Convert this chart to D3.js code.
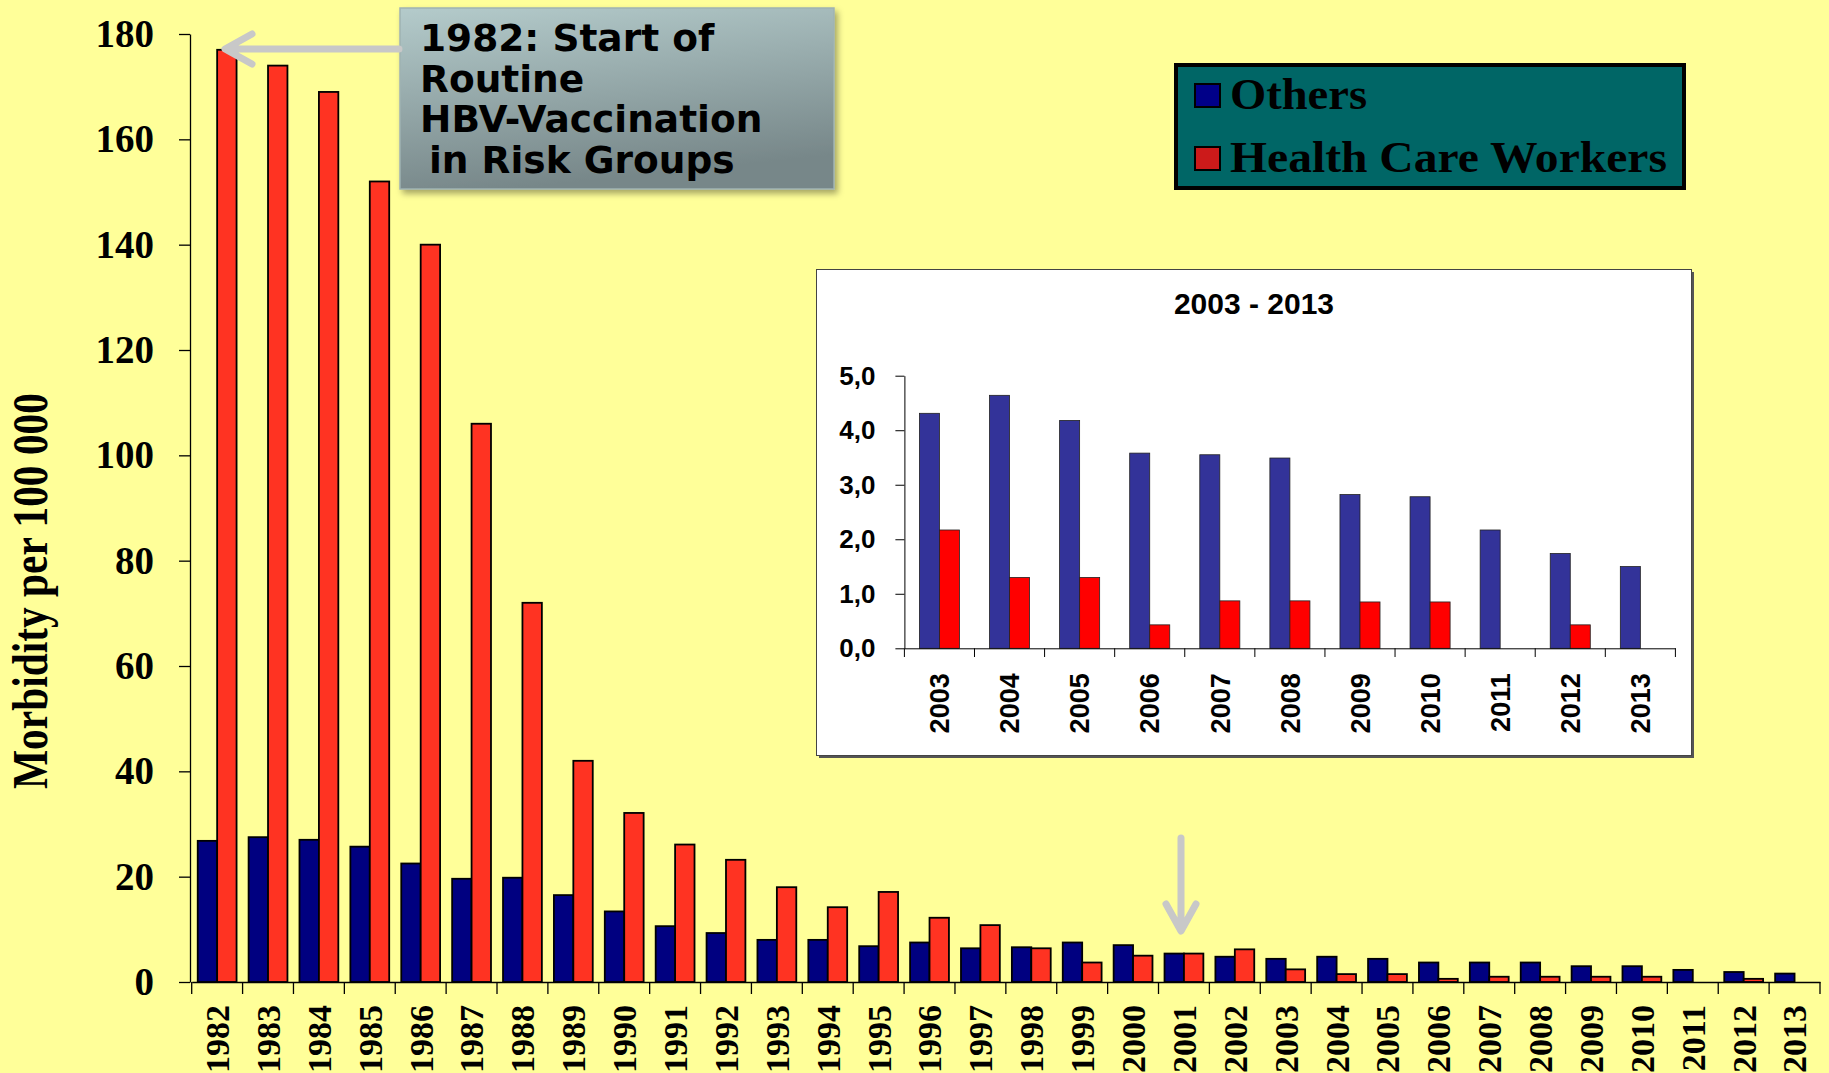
<!DOCTYPE html>
<html>
<head>
<meta charset="utf-8">
<script src="https://cdn.jsdelivr.net/npm/d3@7"></script>
<style>
  body { margin: 0; background: #ffff99; overflow: hidden; }
</style>
</head>
<body>
<script>
let w = 1829;
let h = 1073;

// main chart data, 1982 - 2013
const years = ["1982","1983","1984","1985","1986","1987","1988","1989","1990","1991","1992",
  "1993","1994","1995","1996","1997","1998","1999","2000","2001","2002","2003","2004","2005",
  "2006","2007","2008","2009","2010","2011","2012","2013"];
const others = [26.8, 27.5, 27.0, 25.7, 22.5, 19.6, 19.8, 16.5, 13.4, 10.6, 9.3,
  8.0, 8.0, 6.8, 7.5, 6.4, 6.6, 7.5, 7.0, 5.4, 4.8, 4.4, 4.8, 4.4,
  3.7, 3.7, 3.7, 3.0, 3.0, 2.3, 1.9, 1.6];
const hcw = [177, 174, 169, 152, 140, 106, 72, 42, 32.1, 26.1, 23.2,
  18.0, 14.2, 17.1, 12.2, 10.8, 6.4, 3.7, 5.0, 5.4, 6.2, 2.4, 1.5, 1.5,
  0.6, 1.0, 1.0, 1.0, 1.0, 0, 0.6, 0];
const yTicks = [0, 20, 40, 60, 80, 100, 120, 140, 160, 180];

// inset data, 2003 - 2013
const insetYears = ["2003","2004","2005","2006","2007","2008","2009","2010","2011","2012","2013"];
const insetOthers = [4.31, 4.64, 4.18, 3.58, 3.55, 3.49, 2.82, 2.78, 2.17, 1.74, 1.50];
const insetHcw = [2.17, 1.30, 1.30, 0.43, 0.87, 0.87, 0.85, 0.85, 0, 0.43, 0];
const insetTicks = [0, 1, 2, 3, 4, 5];

const seriesKeys = ["others", "hcw"];
const legendLabels = ["Others", "Health Care Workers"];
const noteLines = ["1982: Start of", "Routine", "HBV-Vaccination", "in Risk Groups"];

const serif = "'Liberation Serif', 'Times New Roman', serif";
const sans = "'Liberation Sans', Arial, sans-serif";
const verdana = "Verdana, 'DejaVu Sans', sans-serif";

let viz = d3.select("body")
            .append("svg")
            .attr("width", w)
            .attr("height", h)
            .style("background-color", "#ffff99");

let defs = viz.append("defs");
let grad = defs.append("linearGradient").attr("id", "noteGrad")
               .attr("x1", 0).attr("y1", 0).attr("x2", 0.25).attr("y2", 1);
grad.append("stop").attr("offset", "0%").attr("stop-color", "#b4cbcb");
grad.append("stop").attr("offset", "100%").attr("stop-color", "#778789");
defs.append("filter").attr("id", "shadow").attr("x", "-10%").attr("y", "-10%")
    .attr("width", "130%").attr("height", "130%")
    .append("feDropShadow").attr("dx", 3).attr("dy", 4).attr("stdDeviation", 3)
    .attr("flood-color", "#000").attr("flood-opacity", 0.35);

// ---------- main chart ----------
let rows = years.map((d, i) => ({ year: d, others: others[i], hcw: hcw[i] }));

let x = d3.scaleBand().domain(years).range([191.7, 1820]);
let xs = d3.scaleBand().domain(seriesKeys).range([0, x.bandwidth()]).paddingOuter(0.31);
let y = d3.scaleLinear().domain([0, 180]).range([982, 34]);
let mainColor = { others: "#000080", hcw: "#ff3322" };

let bars = [];
rows.forEach(r => seriesKeys.forEach(k => {
  if (r[k] > 0) bars.push({ year: r.year, key: k, value: r[k] });
}));

viz.append("g").selectAll("rect").data(bars).enter().append("rect")
   .attr("x", d => x(d.year) + xs(d.key))
   .attr("width", xs.bandwidth())
   .attr("y", d => y(d.value))
   .attr("height", d => y(0) - y(d.value))
   .attr("fill", d => mainColor[d.key])
   .attr("stroke", "#000")
   .attr("stroke-width", 1.8);

let yAxis = d3.axisLeft(y).tickValues(yTicks).tickSize(11).tickSizeOuter(0).tickPadding(25);
viz.append("g")
   .attr("transform", "translate(190,0)")
   .call(yAxis)
   .call(g => g.selectAll("path, line").attr("stroke", "#000").attr("stroke-width", 1.3))
   .call(g => g.selectAll("text")
     .attr("font-family", serif).attr("font-size", 39).attr("font-weight", "bold")
     .attr("fill", "#000"));

let xAxis = d3.axisBottom(x).tickSize(0).tickSizeOuter(0);
viz.append("g")
   .attr("transform", "translate(0,982)")
   .call(xAxis)
   .call(g => g.select(".domain").attr("stroke", "#000").attr("stroke-width", 1.3))
   .call(g => g.selectAll("text")
     .attr("transform", "rotate(-90)")
     .attr("x", -23).attr("y", 0).attr("dy", "0.35em")
     .attr("text-anchor", "end")
     .attr("font-family", serif).attr("font-size", 34).attr("font-weight", "bold")
     .attr("fill", "#000"));

// band boundary ticks
let bounds = years.map(d => x(d)).concat([x.range()[1]]);
viz.append("g").selectAll("line").data(bounds).enter().append("line")
   .attr("x1", d => d).attr("x2", d => d)
   .attr("y1", 982).attr("y2", 994)
   .attr("stroke", "#000").attr("stroke-width", 1.3);

viz.append("text")
   .text("Morbidity per 100 000")
   .attr("transform", "translate(47,591) rotate(-90)")
   .attr("text-anchor", "middle")
   .attr("font-family", serif).attr("font-size", 50).attr("font-weight", "bold")
   .attr("textLength", 396).attr("lengthAdjust", "spacingAndGlyphs");

// ---------- legend ----------
viz.append("rect")
   .attr("x", 1176).attr("y", 65).attr("width", 508).attr("height", 123)
   .attr("fill", "#006666").attr("stroke", "#000").attr("stroke-width", 4);
let legendColor = ["#000088", "#cc1a1a"];
let legendWidth = [137, 437];
legendLabels.forEach((t, i) => {
  viz.append("rect")
     .attr("x", 1195).attr("y", 84 + i * 63).attr("width", 25).attr("height", 23)
     .attr("fill", legendColor[i]).attr("stroke", "#000").attr("stroke-width", 2);
  viz.append("text").text(t)
     .attr("x", 1230).attr("y", 109 + i * 63)
     .attr("font-family", serif).attr("font-size", 44).attr("font-weight", "bold")
     .attr("fill", "#000")
     .attr("textLength", legendWidth[i]).attr("lengthAdjust", "spacingAndGlyphs");
});

// ---------- note box and arrows ----------
viz.append("rect")
   .attr("x", 400).attr("y", 8).attr("width", 434).attr("height", 181)
   .attr("fill", "url(#noteGrad)").attr("stroke", "#9fb3b3").attr("stroke-width", 1.5)
   .attr("filter", "url(#shadow)");
noteLines.forEach((t, i) => {
  viz.append("text").text(t)
     .attr("x", i == 3 ? 429 : 420).attr("y", 51 + i * 40.7)
     .attr("font-family", verdana).attr("font-size", 37.5).attr("font-weight", "bold")
     .attr("fill", "#000");
});

let arrowColor = "#c8c8c8";
viz.append("path")
   .attr("d", "M399,49 L226,49 M252,34 L225,49 L252,64")
   .attr("fill", "none").attr("stroke", arrowColor).attr("stroke-width", 7)
   .attr("stroke-linecap", "round").attr("stroke-linejoin", "round");
viz.append("path")
   .attr("d", "M1181,838 L1181,930 M1166,904 L1181,931 L1196,904")
   .attr("fill", "none").attr("stroke", arrowColor).attr("stroke-width", 7)
   .attr("stroke-linecap", "round").attr("stroke-linejoin", "round");

// ---------- inset 2003 - 2013 ----------
viz.append("rect")
   .attr("x", 819).attr("y", 272).attr("width", 875).attr("height", 486)
   .attr("fill", "#555");
viz.append("rect")
   .attr("x", 816.5).attr("y", 269.5).attr("width", 875).attr("height", 486)
   .attr("fill", "#fff").attr("stroke", "#444").attr("stroke-width", 1);

viz.append("text").text("2003 - 2013")
   .attr("x", 1254).attr("y", 314)
   .attr("text-anchor", "middle")
   .attr("font-family", sans).attr("font-size", 30).attr("font-weight", "bold")
   .attr("fill", "#000");

let insetRows = insetYears.map((d, i) => ({ year: d, others: insetOthers[i], hcw: insetHcw[i] }));
let ix = d3.scaleBand().domain(insetYears).range([904.4, 1675.4]);
let ixs = d3.scaleBand().domain(seriesKeys).range([0, ix.bandwidth()]).paddingOuter(0.75);
let iy = d3.scaleLinear().domain([0, 5]).range([648.3, 375.7]);
let insetColor = { others: "#333399", hcw: "#ff0000" };

let insetBars = [];
insetRows.forEach(r => seriesKeys.forEach(k => {
  if (r[k] > 0) insetBars.push({ year: r.year, key: k, value: r[k] });
}));

viz.append("g").selectAll("rect").data(insetBars).enter().append("rect")
   .attr("x", d => ix(d.year) + ixs(d.key))
   .attr("width", ixs.bandwidth())
   .attr("y", d => iy(d.value))
   .attr("height", d => iy(0) - iy(d.value))
   .attr("fill", d => insetColor[d.key])
   .attr("stroke", "#222")
   .attr("stroke-width", 0.8);

let iyAxis = d3.axisLeft(iy).tickValues(insetTicks).tickSize(9).tickSizeOuter(0).tickPadding(20)
               .tickFormat(d => d3.format(".1f")(d).replace(".", ","));
viz.append("g")
   .attr("transform", "translate(904.4,0)")
   .call(iyAxis)
   .call(g => g.selectAll("path, line").attr("stroke", "#000").attr("stroke-width", 1))
   .call(g => g.selectAll("text")
     .attr("font-family", sans).attr("font-size", 26).attr("font-weight", "bold")
     .attr("fill", "#000"));

let ixAxis = d3.axisBottom(ix).tickSize(0).tickSizeOuter(0);
viz.append("g")
   .attr("transform", "translate(0,648.3)")
   .call(ixAxis)
   .call(g => g.select(".domain").attr("stroke", "#000").attr("stroke-width", 1))
   .call(g => g.selectAll("text")
     .attr("transform", "rotate(-90)")
     .attr("x", -25).attr("y", 0).attr("dy", "0.36em")
     .attr("text-anchor", "end")
     .attr("font-family", sans).attr("font-size", 27).attr("font-weight", "bold")
     .attr("fill", "#000"));

let ibounds = insetYears.map(d => ix(d)).concat([ix.range()[1]]);
viz.append("g").selectAll("line").data(ibounds).enter().append("line")
   .attr("x1", d => d).attr("x2", d => d)
   .attr("y1", 648.3).attr("y2", 657)
   .attr("stroke", "#000").attr("stroke-width", 1);
</script>
</body>
</html>
